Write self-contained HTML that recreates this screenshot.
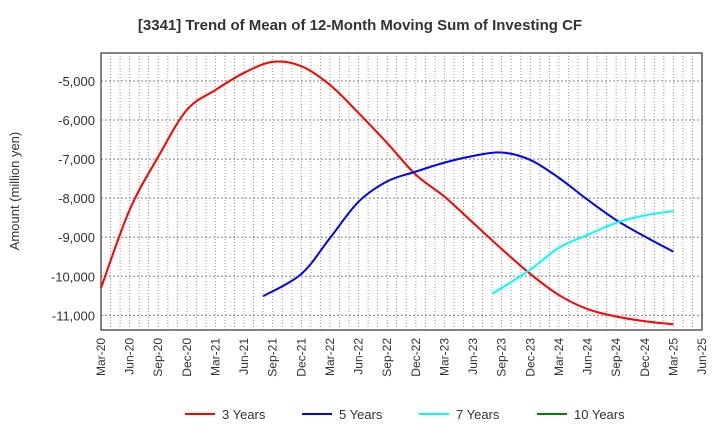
<!DOCTYPE html>
<html><head><meta charset="utf-8"><style>
body{margin:0;background:#fff;font-family:"Liberation Sans",Arial,sans-serif;}
svg text{font-family:"Liberation Sans",Arial,sans-serif;}
</style></head><body>
<svg id="chart" width="720" height="440" xmlns="http://www.w3.org/2000/svg">
<text x="360" y="30" text-anchor="middle" font-size="15" font-weight="bold" fill="#333">[3341]  Trend of Mean of 12-Month Moving Sum of Investing CF</text>
<text transform="translate(19,191) rotate(-90)" text-anchor="middle" font-size="13" fill="#333">Amount (million yen)</text>
<g id="grid"></g><g id="axes"></g><g id="lines"></g><g id="legend"></g>
</svg>
<script>
const xLabels=["Mar-20","Jun-20","Sep-20","Dec-20","Mar-21","Jun-21","Sep-21","Dec-21","Mar-22","Jun-22","Sep-22","Dec-22","Mar-23","Jun-23","Sep-23","Dec-23","Mar-24","Jun-24","Sep-24","Dec-24","Mar-25","Jun-25"];
const yTicks=[-5000,-6000,-7000,-8000,-9000,-10000,-11000];
const seriesNames=["3 Years","5 Years","7 Years","10 Years"];
const seriesColors=["#ff0000","#0000ff","#00ffff","#008000"];
const months3=[0,3,6,9,12,15,18,21,24,27,30,33,36,39,42,45,48,51,54,57,60];
const values3=[-10300,-8300,-6940,-5740,-5230,-4790,-4510,-4620,-5100,-5820,-6590,-7400,-7960,-8630,-9300,-9940,-10480,-10840,-11030,-11150,-11230];
const months5=[17,21,24,27,30,33,36,39,42,45,48,51,54,57,60];
const values5=[-10510,-9940,-9020,-8090,-7570,-7320,-7090,-6920,-6830,-7020,-7480,-8040,-8560,-8980,-9370];
const months7=[41,45,48,51,54,57,60];
const values7=[-10450,-9830,-9270,-8940,-8630,-8440,-8330];
const months10=[];
const values10=[];

const L=101,R=702,T=53,B=330,NM=63;
const xS=m=>L+(R-L)*m/NM;
const yS=v=>81+(-5000-v)*0.03906;
const NS="http://www.w3.org/2000/svg";
function mk(tag,attrs,parent){const e=document.createElementNS(NS,tag);for(const k in attrs)e.setAttribute(k,attrs[k]);parent.appendChild(e);return e;}
const grid=document.getElementById('grid'),axes=document.getElementById('axes'),lines=document.getElementById('lines'),legend=document.getElementById('legend');
for(let m=1;m<NM;m++){const g=mk('line',{x1:xS(m),x2:xS(m),y1:T,y2:B,stroke:'#999','stroke-dasharray':'1,2','stroke-width':1},grid);

}
yTicks.forEach(v=>{const g=mk('line',{x1:L,x2:R,y1:yS(v),y2:yS(v),stroke:'#888','stroke-dasharray':'2,2','stroke-width':1},grid);


const t=mk('text',{x:L-6,y:yS(v)+5,'text-anchor':'end','font-size':13,fill:'#333'},axes);


t.textContent=v.toLocaleString('en-US');});
const fr=mk('rect',{x:L,y:T,width:R-L,height:B-T,fill:'none',stroke:'#333','stroke-width':1.2},axes);


xLabels.forEach((lb,i)=>{const x=xS(i*3);const t=mk('text',{transform:`translate(${x+4},${B+8}) rotate(-90)`,'text-anchor':'end','font-size':12,fill:'#333'},axes);


t.textContent=lb;});
function smooth(pts){let d=`M${pts[0][0]},${pts[0][1]}`;for(let i=0;i<pts.length-1;i++){const p0=pts[i-1]||pts[i],p1=pts[i],p2=pts[i+1],p3=pts[i+2]||p2;
d+=` C${p1[0]+(p2[0]-p0[0])/6},${p1[1]+(p2[1]-p0[1])/6} ${p2[0]-(p3[0]-p1[0])/6},${p2[1]-(p3[1]-p1[1])/6} ${p2[0]},${p2[1]}`;}return d;}
const allM=[months3,months5,months7,months10],allV=[values3,values5,values7,values10];
allM.forEach((ms,s)=>{if(ms.length<2)return;const pts=ms.map((m,i)=>[xS(m),yS(allV[s][i])]);
const p=mk('path',{d:smooth(pts),fill:'none',stroke:seriesColors[s],'stroke-width':2},lines);

});
const lx=[185,302,419,537];
seriesNames.forEach((n,i)=>{const g=mk('g',{},legend);


mk('line',{x1:lx[i],x2:lx[i]+30,y1:414,y2:414,stroke:seriesColors[i],'stroke-width':2},g);
const t=mk('text',{x:lx[i]+37,y:419,'font-size':13,fill:'#333'},g);t.textContent=n;});
</script>
</body></html>
